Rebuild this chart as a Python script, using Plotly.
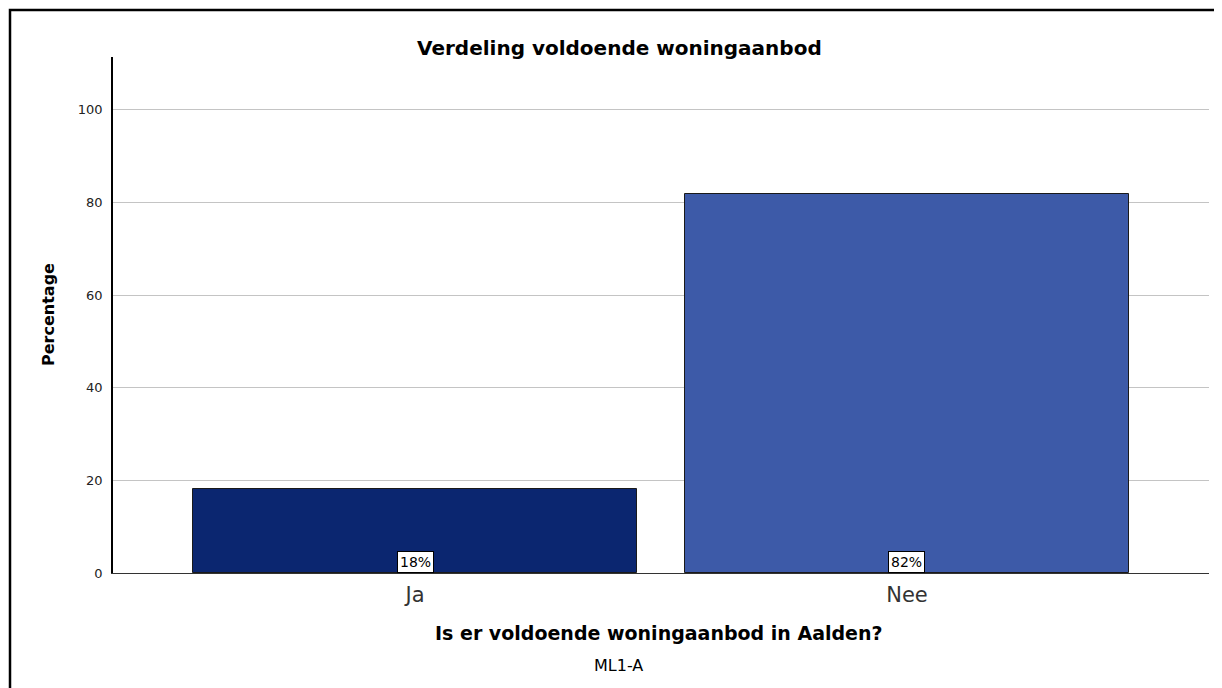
import plotly.graph_objects as go

categories = ["Ja", "Nee"]
percentages = [18.2, 81.8]
labels = ["18%", "82%"]
colors = ["#0b2670", "#3d5aa8"]
y_ticks = [0, 20, 40, 60, 80, 100]

W, H = 1222, 688
OFF = 8  # page body margin
L, R, T, B = 113 - OFF, W - (1209 - OFF), 57 - OFF, H - (573 - OFF)
pw, ph = W - L - R, H - T - B

def px(x):
    return (x - OFF - L) / pw

def py(y):
    return (H - B - (y - OFF)) / ph

fig = go.Figure()
fig.add_trace(go.Bar(
    x=categories, y=percentages, width=0.902,
    marker=dict(color=colors, line=dict(color="#1a1a1a", width=1)),
    hoverinfo="skip", showlegend=False,
))

font = "DejaVu Sans, Verdana, sans-serif"
annotations = []
for c, v, lab in zip(categories, percentages, labels):
    annotations.append(dict(
        x=c, y=0, xref="x", yref="y", text=lab, showarrow=False,
        yanchor="bottom", font=dict(family=font, size=14, color="#000"),
        bgcolor="white", bordercolor="#000", borderwidth=1, borderpad=2,
    ))

annotations += [
    dict(x=px(619), y=py(48), xref="paper", yref="paper",
         text="<b>Verdeling voldoende woningaanbod</b>", showarrow=False,
         font=dict(family=font, size=20, color="#000"), xanchor="center", yanchor="middle"),
    dict(x=px(659), y=py(633), xref="paper", yref="paper",
         text="<b>Is er voldoende woningaanbod in Aalden?</b>", showarrow=False,
         font=dict(family=font, size=19, color="#000"), xanchor="center", yanchor="middle"),
    dict(x=px(618), y=py(665), xref="paper", yref="paper",
         text="ML1-A", showarrow=False,
         font=dict(family=font, size=16, color="#000"), xanchor="center", yanchor="middle"),
    dict(x=px(48), y=py(315), xref="paper", yref="paper",
         text="<b>Percentage</b>", showarrow=False, textangle=-90,
         font=dict(family=font, size=16, color="#000"), xanchor="center", yanchor="middle"),
]

fig.update_layout(
    template="none",
    width=W, height=H,
    margin=dict(l=L, r=R, t=T, b=B, pad=0),
    paper_bgcolor="white", plot_bgcolor="white",
    bargap=0,
    annotations=annotations,
    shapes=[dict(type="rect", xref="paper", yref="paper",
                 x0=px(10), x1=px(1240), y0=py(710), y1=py(10),
                 line=dict(color="#000", width=2.5), layer="above")],
    xaxis=dict(
        range=[-0.614, 1.614], showgrid=False, showline=True,
        linecolor="#333", linewidth=1, ticks="",
        tickfont=dict(family=font, size=21, color="#333"),
        ticklabelstandoff=3,
        fixedrange=True,
    ),
    yaxis=dict(
        range=[0, 111.4], tickvals=y_ticks, showgrid=True,
        gridcolor="#c4c4c4", gridwidth=1, zeroline=False,
        showline=True, linecolor="#000", linewidth=1.5, ticks="",
        tickfont=dict(family=font, size=13, color="#222"),
        ticklabelstandoff=6,
    ),
)

fig.write_html("out.html")
